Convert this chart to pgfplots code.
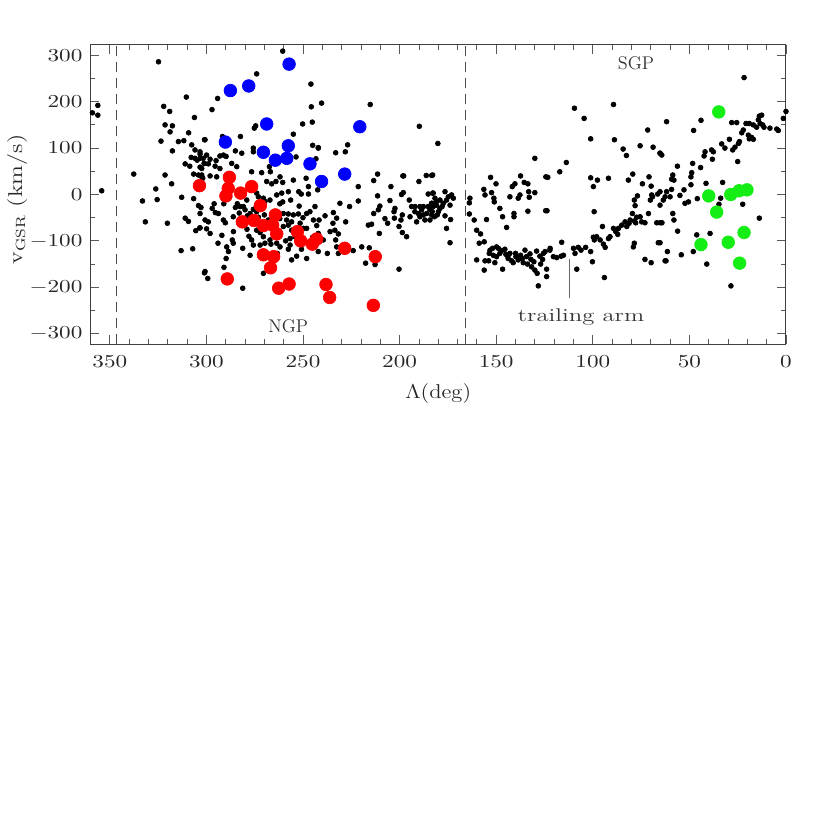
\documentclass[border=0pt]{standalone}
\usepackage{pgfplots}
\pgfplotsset{compat=1.18}
\definecolor{ptred}{RGB}{255,0,0}
\definecolor{ptblue}{RGB}{0,0,255}
\definecolor{ptgreen}{RGB}{20,238,20}
\pgfplotstableread{
L v
359 176
356.2 192
356.2 171
354.2 8
324.8 286
337.6 44
333.1 -14
331.6 -59
326.2 12
325.5 -11
321.4 42
320.2 -62
322.1 190
319 179
321.4 150
317.6 148
318.8 135
323.5 115
317.6 94
318 23
310.4 210
306.2 166
309.2 133
314.5 114
311.7 116
312.8 -6
306.6 -9
311 -51
309.3 -58
304.1 -24
302.8 -28
305.5 -78
303.4 -72
313.1 -121
307.1 -117
301 -169
307.6 107
305.9 96
303.3 87
307.9 80
305.9 78
303.3 78
311 66
308.6 61
304.8 74
306.6 44
304.1 42
302.4 38
301 67
302.4 56
301 118
303.3 59
260.5 309
274 260
294.2 207
297.1 183
245.9 238
245.7 189
275.2 143
274.5 148
282.4 125
291.7 125
300.7 118
281.7 89
285 94
275.7 100
275.7 92
255 130
250.2 152
245.2 156
245 106
242.1 100
253.6 81
267.4 60
266.9 49
261.9 38
276.6 49
303.3 92
299.9 85
298.1 76
295 73
293 83
291.2 85
289.8 82
295.5 61
301.6 78
299 66
302.4 42
301.9 35
301.2 67
293 56
294.7 38
298.1 40
286.9 67
284.3 60
271.4 47
268.8 28
266.2 23
264 28
260.5 26
255 31
248.4 35
247.2 17
252.2 6
250.9 1
247.2 1
263.6 -1
261 3
257.6 6
256.4 -12
260.5 -16
274 3
273.1 -5
270.5 -8
269.7 -15
267.1 -12
279.1 -12
277.4 10
295.4 -39
293.8 -41
286.1 -48
291.2 -55
290.2 -61
285 -28
282.6 -26
280.9 -26
280 -33
277.4 -41
275.7 -32
274 -37
273.1 -49
278.8 -46
275.7 -62
274 -77
272.2 -82
270.5 -91
267.1 -98
266.6 -107
263.6 -105
260.2 -69
260.2 -41
258.5 -55
257.6 -66
255.9 -59
255.9 -77
255 -44
252.4 -42
257.6 -42
248.1 -41
246.4 -37
244.6 -55
242.9 -67
242.1 -84
251.5 -62
249.8 -73
248.1 -73
256.7 -95
256.7 -109
254.1 -91
257.6 -118
255.9 -141
253.3 -133
250.8 -118
248.1 -138
261.9 -113
263.3 -127
275.7 -109
277.4 -131
281.2 -116
286.1 -105
289.5 -113
288.6 -123
290.9 -157
289.8 -138
286.6 -98
298.1 -84
299.9 -74
299 -59
300.7 -55
303.3 -72
303.3 -41
300.7 -166
299.3 -181
281.2 -202
270.5 -170
276.6 -98
272.2 -109
269.7 -105
268.8 -127
284 -20
288 -5
296 -20
262 -20
252 -25
268 -55
283 -62
292 -88
264 -86
279 -75
286 -80
294 -105
297 -30
291 -20
283 -40
270 -44
262 -52
250 -50
245 -92
259 -100
278 -90
240.4 197
215.2 194
189.8 147
242.1 101
226.9 107
228.1 92
233.1 90
243.3 77
242.4 10
211.4 44
213.4 30
221.4 17
204.5 17
198.3 40
199 0
198.1 4
211.4 -3
205 -13
230.9 -19
225.9 -26
221.4 -14
210.2 -25
211 -33
213.4 -41
202.4 -30
202.9 -37
198.6 -44
199.3 -55
200.3 -69
198.6 -82
196.4 -91
207.6 -52
206.2 -62
202.7 -51
194.6 -48
193.8 -26
192 -26
189.5 -26
187.7 -26
190.3 -41
189.5 -48
187.7 -44
186 -41
184.3 -33
182 -48
183.4 -19
185.2 1
182.6 3
186.2 41
183.4 41
190 28
197.9 40
216.2 -66
214.5 -64
210.5 -84
215.7 -115
217.6 -148
212.7 -151
200.3 -161
224 -121
219.6 -113
238.6 -46
234.3 -39
232.6 -51
234.5 -62
236 -80
233.5 -77
231.7 -85
233.1 -98
232.6 -113
231.7 -127
237.4 -127
239.5 -98
242.1 -123
227.9 -59
241.7 -55
243.8 -26
192.1 -37
186.9 -55
185.2 -26
183.1 -37
191.2 -59
188.6 -33
195 -12
180.2 110
130 78
182.9 42
182.9 3
181.7 -8
183.4 -19
182.6 -26
180.9 -23
179.1 -12
179.1 -30
177.4 -19
180.5 -44
176.5 -46
173.6 -54
175.7 -73
173.9 -104
173.1 -1
172.2 -8
173.9 -23
184.3 -55
183.4 -44
179.9 -37
176.5 6
174.8 -5
175.7 -12
178 -26
181 -15
163.6 -8
163.9 -18
163.9 -42
161.4 -55
160.1 -77
158.1 -85
158.8 -105
156.2 -102
160.1 -141
156.2 -163
155 -54
156.4 11
155.8 -1
152.9 37
150.1 23
152.4 4
151.2 -8
151 -16
148.1 -30
146.7 -48
144.6 -71
142.9 -5
140.8 -41
140.8 -48
141.7 17
140.3 23
138.6 -8
137.7 -1
137.4 40
135.5 26
133.6 23
133.2 6
132.9 -6
133.6 -36
130 4
124.3 38
124.4 -35
153.2 -120
151.9 -116
149.8 -113
148.9 -116
153.6 -127
151.5 -131
149.8 -134
148.1 -127
147.2 -121
145.5 -118
145 -129
143.8 -138
142 -143
142.9 -127
141.2 -147
139.8 -134
138.6 -141
137.4 -131
136 -147
135.1 -120
134.3 -134
132.5 -128
133.8 -150
131.7 -156
130 -163
128.8 -170
130.5 -145
129.1 -122
127.4 -133
125.6 -127
123.9 -161
123.9 -177
128.2 -197
122.2 -120
146.7 -161
155.8 -143
153.9 -143
150.7 -147
144 -134
140 -127
136.5 -138
132 -140
127 -150
126 -140
109.5 186
104.5 164
89.3 194
101.1 120
88.8 118
113.7 69
117.1 49
123.3 37
101.1 36
97.6 31
99.7 17
91.9 35
123.7 -35
99.3 -37
84.3 98
82.6 84
75.5 105
71.6 139
68.8 102
65.2 89
81.6 31
79.3 44
74.3 23
70.9 38
69.8 18
124.7 -123
122.1 -116
120.4 -134
118.7 -136
116.4 -133
115.2 -131
116.1 -103
110 -116
109.2 -127
107.5 -114
106.1 -120
103.7 -114
101.1 -123
100.2 -145
108.3 -161
99.2 -98
98 -91
99.7 -92
96.2 -98
94.5 -107
93.6 -114
95 -69
91.9 -95
91.1 -91
89.3 -73
88.1 -80
86.7 -73
87.1 -86
85 -66
83.3 -59
82.4 -69
81.2 -62
80.7 -55
79.5 -41
78.5 -57
77.8 -61
77.3 -49
75.5 -48
74.7 -59
73 -61
71.2 -41
78.5 -12
78.1 -24
76.9 -3
70.2 -12
69.1 -5
69.5 -1
66.4 1
65.2 6
66.9 -61
65.2 -61
78.5 -105
79 -113
73 -140
69.8 -147
66.1 -104
62.6 -143
94 -179
61.8 157
44 160
47.8 138
28.1 155
25.5 155
21.7 252
20.7 153
19 153
16.9 150
15.2 145
13.8 169
12.6 171
14.3 161
13.4 153
12.1 150
11.4 145
8.3 143
4.8 141
4 138
1.4 164
0 179
22.9 133
22.1 139
19.5 128
17.8 123
19 120
16.9 119
24.1 114
24.6 110
29.3 119
33.3 109
31.6 100
27.6 96
26.4 102
25 71
38.5 96
37.6 92
41.9 92
42.4 83
38.1 76
48.3 67
48.8 47
44.2 58
56.2 61
58.6 42
59.2 33
58 31
65.2 89
64.3 85
49.2 38
49.2 21
41.4 24
32.8 26
52.8 10
54.9 -2
59.2 11
61.8 6
62.6 -5
60 -5
63.5 -12
65.2 -23
52.3 -19
50.5 -16
45.9 -9
33.8 -8
34.7 -21
22.4 -21
58.6 -41
58 -55
64.2 -61
56.1 -79
46.2 -87
39.3 -84
13.8 -51
65.2 -104
61.4 -123
62.1 -143
54.2 -130
48 -123
41 -150
28.5 -197
}\blackpts
\pgfplotstableread{
L v
257.2 281
278.1 234
287.6 224
268.8 152
290.2 113
270.5 91
257.6 105
264.3 74
258.4 78
246.4 66
240.4 28
220.6 146
228.4 44
}\bluepts
\pgfplotstableread{
L v
303.6 19
288.1 37
288.7 13
289.9 -3
282.3 3
276.6 17
272.1 -24
281.4 -59
275.4 -56
270.5 -67
264.3 -44
265.7 -66
263.6 -85
252.9 -80
251.2 -100
245.2 -107
242.9 -96
270.5 -130
265.2 -134
266.8 -158
289.2 -182
262.6 -202
257.2 -193
228.4 -116
212.6 -134
238.1 -194
236.2 -222
213.6 -239
}\redpts
\pgfplotstableread{
L v
34.8 178
40 -3
35.9 -38
28.6 0
24.3 8
20.2 10
44 -108
29.9 -103
21.7 -82
24 -148
}\greenpts
\begin{document}
\fontsize{11}{13}\selectfont
\begin{tikzpicture}
\path[use as bounding box] (0,0) rectangle (498pt,498pt);
\begin{axis}[
  at={(54.3pt,291.4pt)}, anchor=south west,
  scale only axis, width=417.3pt, height=179.8pt,
  xmin=0, xmax=360, x dir=reverse,
  ymin=-323, ymax=323,
  xtick={0,50,...,350}, minor x tick num=4,
  ytick={-300,-200,...,300}, minor y tick num=1,
  tick pos=both, tick align=inside,
  major tick length=5.4pt, minor tick length=3pt,
  axis line style={black!75, line width=0.6pt},
  every tick/.style={black!65, line width=0.5pt},
  tick label style={font=\fontsize{11}{13}\selectfont, text=black!85},
  xticklabel={\scalebox{1.27}[1]{$\pgfmathprintnumber{\tick}$}},
  yticklabel={\scalebox{1.27}[1]{$\pgfmathprintnumber{\tick}$}},
  xticklabel style={yshift=-3pt},
  yticklabel style={xshift=-1pt},
  xlabel={\scalebox{1.13}[1]{$\Lambda$(deg)}},
  ylabel={\scalebox{1.22}[1]{v$_{\rm GSR}$ (km/s)}},
  xlabel style={font=\fontsize{12}{14}\selectfont, yshift=-2pt, text=black!85},
  ylabel style={at={(rel axis cs:0,0.5)}, anchor=center, rotate=0, yshift=44pt, xshift=-3pt, font=\fontsize{12}{14}\selectfont, text=black!85},
  clip=true,
]
\addplot[dashed, black!70, line width=0.5pt, dash pattern=on 6pt off 3.6pt] coordinates {(346.5,-323) (346.5,323)};
\addplot[dashed, black!70, line width=0.5pt, dash pattern=on 6pt off 3.6pt] coordinates {(165.8,-323) (165.8,323)};
\addplot[black!60, line width=0.5pt] coordinates {(112.2,-140) (112.2,-224)};
\addplot[only marks, mark=*, mark size=1.45pt, black] table[x=L, y=v] {\blackpts};
\addplot[only marks, mark=*, mark size=3.8pt, ptblue, mark options={draw=none, fill=ptblue}] table[x=L, y=v] {\bluepts};
\addplot[only marks, mark=*, mark size=3.8pt, ptred, mark options={draw=none, fill=ptred}] table[x=L, y=v] {\redpts};
\addplot[only marks, mark=*, mark size=3.8pt, ptgreen, mark options={draw=none, fill=ptgreen}] table[x=L, y=v] {\greenpts};
\node[font=\fontsize{11}{13}\selectfont, text=black!80] at (axis cs:257.6,-285) {NGP};
\node[font=\fontsize{11}{13}\selectfont, text=black!80] at (axis cs:77.6,284) {SGP};
\node[font=\fontsize{11}{13}\selectfont, text=black!80] at (axis cs:106.1,-264) {\scalebox{1.35}[1]{trailing arm}};
\end{axis}
\end{tikzpicture}
\end{document}
